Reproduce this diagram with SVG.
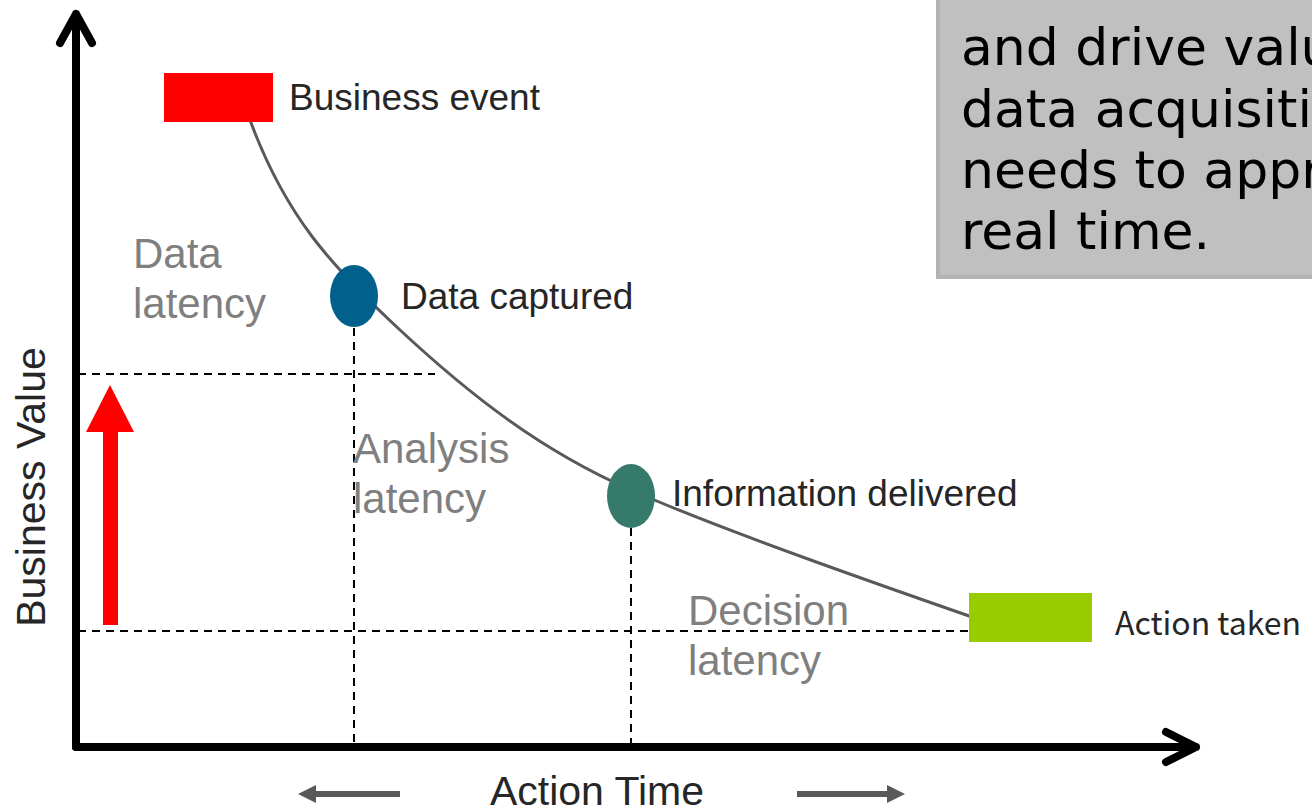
<svg xmlns="http://www.w3.org/2000/svg" width="1312" height="809" viewBox="0 0 1312 809">
<style>
.lbl{font-family:"Liberation Sans",Arial,sans-serif;font-size:37px;fill:#262626}
.lat{font-family:"Liberation Sans",Arial,sans-serif;font-size:42px;fill:#7f7f7f}
.ax{font-family:"Liberation Sans",Arial,sans-serif;font-size:41px;fill:#262626}
.box{font-family:"DejaVu Sans",Verdana,sans-serif;font-size:52px;fill:#000}
.dash{stroke:#000;stroke-width:2;stroke-dasharray:8 6;fill:none}
.axis{stroke:#000;stroke-width:8;fill:none;stroke-linecap:round;stroke-linejoin:round}
.garr{stroke:#595959;stroke-width:6;fill:none}
</style>
<rect width="1312" height="809" fill="#fff"/>
<g id="note">
<rect x="938" y="-10" width="390" height="287" fill="#c0c0c0" stroke="#b3b3b3" stroke-width="4"/>
<text class="box" x="961" y="65">and drive valu</text>
<text class="box" x="961" y="127">data acquisiti</text>
<text class="box" x="961" y="188">needs to appr</text>
<text class="box" x="961" y="249">real time.</text>
</g>
<g id="connectors">
<path class="dash" d="M78,374 H435"/>
<path class="dash" d="M78,631 H970"/>
<path class="dash" d="M354,328 V746"/>
<path class="dash" d="M631,528 V746"/>
<path d="M250,120 C285,215 330,265 400,330 S540,450 631,490 S880,585 972,617" fill="none" stroke="#595959" stroke-width="3"/>
</g>
<g id="axes">
<path class="axis" d="M76,747 V14 M60,43 L76,14 L92,43"/>
<path class="axis" d="M76,747 H1196 M1166,732 L1196,747 L1166,762"/>
</g>
<g id="value-arrow">
<polygon points="110,385 134,432 118,432 118,625 103,625 103,432 86,432" fill="#ff0000"/>
</g>
<g id="business-event">
<rect x="164" y="73" width="109" height="49" fill="#ff0000"/>
<text class="lbl" x="289" y="110">Business event</text>
</g>
<g id="data-captured">
<ellipse cx="354" cy="296" rx="24" ry="31" fill="#02618c"/>
<text class="lbl" x="401" y="309">Data captured</text>
</g>
<g id="information-delivered">
<ellipse cx="631" cy="496" rx="24" ry="32" fill="#367a6c"/>
<text class="lbl" x="672" y="506">Information delivered</text>
</g>
<g id="action-taken">
<rect x="969" y="593" width="123" height="49" fill="#99cc00"/>
<text x="1115" y="635" style="font-family:'Noto Sans CJK JP','Noto Sans',sans-serif;font-size:32px;fill:#262626">Action taken</text>
</g>
<g id="latency-labels">
<text class="lat" x="133" y="268">Data</text>
<text class="lat" x="133" y="318">latency</text>
<text class="lat" x="353" y="463">Analysis</text>
<text class="lat" x="353" y="513">latency</text>
<text class="lat" x="688" y="625">Decision</text>
<text class="lat" x="688" y="675">latency</text>
</g>
<g id="axis-labels">
<text class="ax" transform="translate(45,487) rotate(-90)" text-anchor="middle">Business Value</text>
<text class="ax" x="597" y="805" text-anchor="middle">Action Time</text>
<path class="garr" d="M400,794 H312"/>
<polygon points="298,794 316,785 316,803" fill="#595959"/>
<path class="garr" d="M797,794 H890"/>
<polygon points="905,794 887,785 887,803" fill="#595959"/>
</g>
</svg>
